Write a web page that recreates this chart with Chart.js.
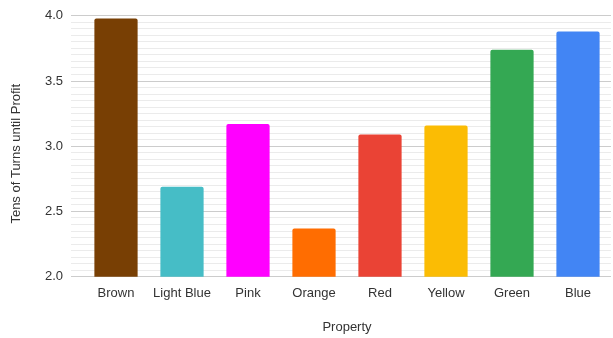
<!DOCTYPE html>
<html>
<head>
<meta charset="utf-8">
<script src="https://cdn.jsdelivr.net/npm/chart.js@4/dist/chart.umd.min.js"></script>
<style>
  html, body { margin: 0; padding: 0; background: #ffffff; }
  #wrap { width: 613px; height: 338px; }
</style>
</head>
<body>
<div id="wrap"><canvas id="chart" width="613" height="338"></canvas></div>
<script>
// Property groups and the turns (in tens) each needs before it pays off
const categories = ['Brown', 'Light Blue', 'Pink', 'Orange', 'Red', 'Yellow', 'Green', 'Blue'];
const turnsToProfit = [3.98, 2.69, 3.17, 2.37, 3.09, 3.16, 3.74, 3.88];
const barColors = ['#783f04', '#46bdc6', '#ff00ff', '#ff6d01', '#ea4335', '#fbbc04', '#34a853', '#4285f4'];
const yTitle = 'Tens of Turns until Profit';
const xTitle = 'Property';
const yMin = 2.0;
const yMax = 4.0;
const majorStep = 0.5;
const minorStep = 0.05;

Chart.defaults.font.family = '"Liberation Sans", Arial, sans-serif';
Chart.defaults.font.size = 13;
Chart.defaults.color = '#333333';

const isMajor = v => Math.abs(v / majorStep - Math.round(v / majorStep)) < 1e-6;

// Vertical axis title, drawn rotated and sitting a little below the plot's middle
const yTitlePlugin = {
  id: 'yTitle',
  afterDraw(chart) {
    const { ctx, chartArea } = chart;
    ctx.save();
    ctx.translate(16, (chartArea.top + chartArea.bottom) / 2 + 7.5);
    ctx.rotate(-Math.PI / 2);
    ctx.font = '13px "Liberation Sans", Arial, sans-serif';
    ctx.fillStyle = '#333333';
    ctx.textAlign = 'center';
    ctx.textBaseline = 'middle';
    ctx.fillText(yTitle, 0, 0);
    ctx.restore();
  }
};

new Chart(document.getElementById('chart'), {
  type: 'bar',
  data: {
    labels: categories,
    datasets: [{
      data: turnsToProfit,
      backgroundColor: barColors,
      borderWidth: 0,
      borderRadius: 2,
      categoryPercentage: 1.0,
      barPercentage: 0.655
    }]
  },
  plugins: [yTitlePlugin],
  options: {
    responsive: false,
    animation: false,
    devicePixelRatio: 1,
    layout: { padding: { top: 14.5, right: 2, bottom: 0, left: 0 } },
    plugins: { legend: { display: false }, tooltip: { enabled: false } },
    scales: {
      x: {
        grid: { display: false, drawTicks: false },
        border: { display: false },
        ticks: { padding: 9, color: '#333333', font: { size: 13 } },
        title: {
          display: true,
          text: xTitle,
          color: '#333333',
          font: { size: 13 },
          padding: { top: 0, bottom: 2.5 }
        },
        afterFit: s => { s.height = 61.3; }
      },
      y: {
        min: yMin,
        max: yMax,
        border: { display: false },
        grid: {
          color: c => (c.tick && isMajor(c.tick.value)) ? '#cccccc' : '#ebebeb',
          lineWidth: 1,
          drawTicks: true,
          tickLength: 12
        },
        ticks: {
          stepSize: minorStep,
          autoSkip: false,
          padding: 8,
          color: '#333333',
          font: { size: 13 },
          callback: v => isMajor(v) ? v.toFixed(1) : ''
        },
        title: { display: false },
        afterFit: s => { s.width = 83; }
      }
    }
  }
});
</script>
</body>
</html>
